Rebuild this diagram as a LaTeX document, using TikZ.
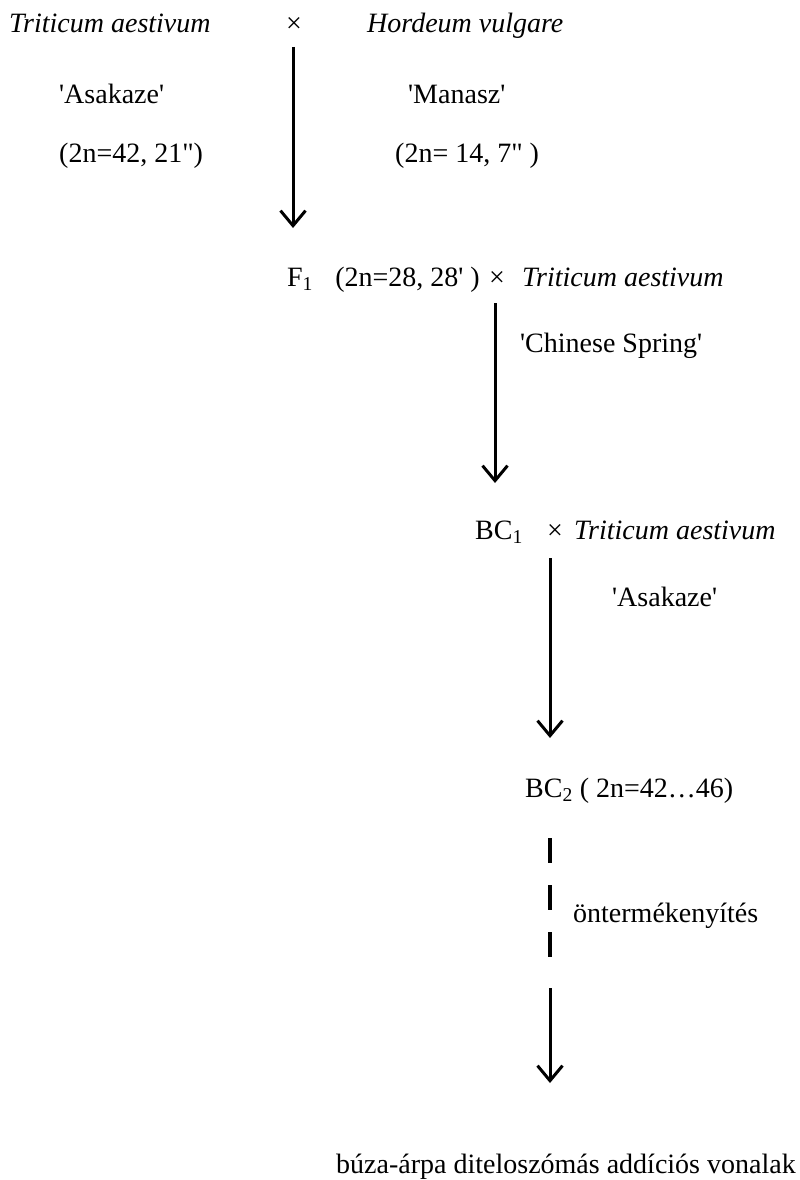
\documentclass[tikz,border=0pt]{standalone}
\usepackage{fontspec}
\newfontfamily\timesf{Liberation Serif}[ItalicFont={Liberation Serif Italic}]
\usetikzlibrary{arrows.meta}
\tikzstyle{txt}=[anchor=west, inner sep=0pt, text height=19pt, text depth=0pt, font=\timesf\fontsize{28}{32}\selectfont]
\tikzstyle{itxt}=[txt, font=\timesf\itshape\fontsize{28}{32}\selectfont]
\tikzstyle{crs}=[txt, anchor=center]
\tikzstyle{arr}=[draw, line width=3pt, -{Straight Barb[length=15pt,width=25pt]}]
\newcommand{\txt}{\node[txt]}
\newcommand{\itxt}{\node[itxt]}
\newcommand{\crs}{\node[crs]}

\begin{document}
\begin{tikzpicture}[x=1pt, y=-1pt]
    \useasboundingbox (0,0) rectangle (800,1180);
            \itxt (wheat) at (9,23) {Triticum aestivum};
            \crs (cross1) at (294,23) {×};
            \itxt (barley) at (367,23) {Hordeum vulgare};
            \txt (asa1) at (59,94) {'Asakaze'};
            \txt (man) at (408,94) {'Manasz'};
            \txt (chr1) at (59,153) {(2n=42, 21")};
            \txt (chr2) at (395,153) {(2n= 14, 7" )};
            \txt[anchor=east] (f1) at (480,277) {F\textsubscript{1}\hspace{0.8em}(2n=28, 28' )};
            \crs (cross2) at (497,277) {×};
            \itxt (wheat2) at (522,277) {Triticum aestivum};
            \txt (cs) at (520,343) {'Chinese Spring'};
            \txt (bc1) at (475,530) {BC\textsubscript{1}};
            \crs (cross3) at (555,530) {×};
            \itxt (wheat3) at (574,530) {Triticum aestivum};
            \txt (asa2) at (612,597) {'Asakaze'};
            \txt (bc2) at (525,788) {BC\textsubscript{2} ( 2n=42…46)};
            \txt (self) at (573,913) {öntermékenyítés};
            \txt (lines) at (336,1164) {búza-árpa diteloszómás addíciós vonalak};
            \coordinate (a1) at (293,47);
            \coordinate (b1) at (293,228);
            \coordinate (a2) at (495,303);
            \coordinate (b2) at (495,483);
            \coordinate (a3) at (550,558);
            \coordinate (b3) at (550,738);
            \coordinate (d1) at (550,838);
            \coordinate (d2) at (550,960);
            \coordinate (a4) at (550,988);
            \coordinate (b4) at (550,1083);
        \path
                (a1) edge[arr] (b1)
                (a2) edge[arr] (b2)
                (a3) edge[arr] (b3)
                (d1) edge[draw, line width=3.2pt, dash pattern=on 25pt off 22pt] (d2)
                (a4) edge[arr] (b4)
            ;
\end{tikzpicture}
\end{document}
